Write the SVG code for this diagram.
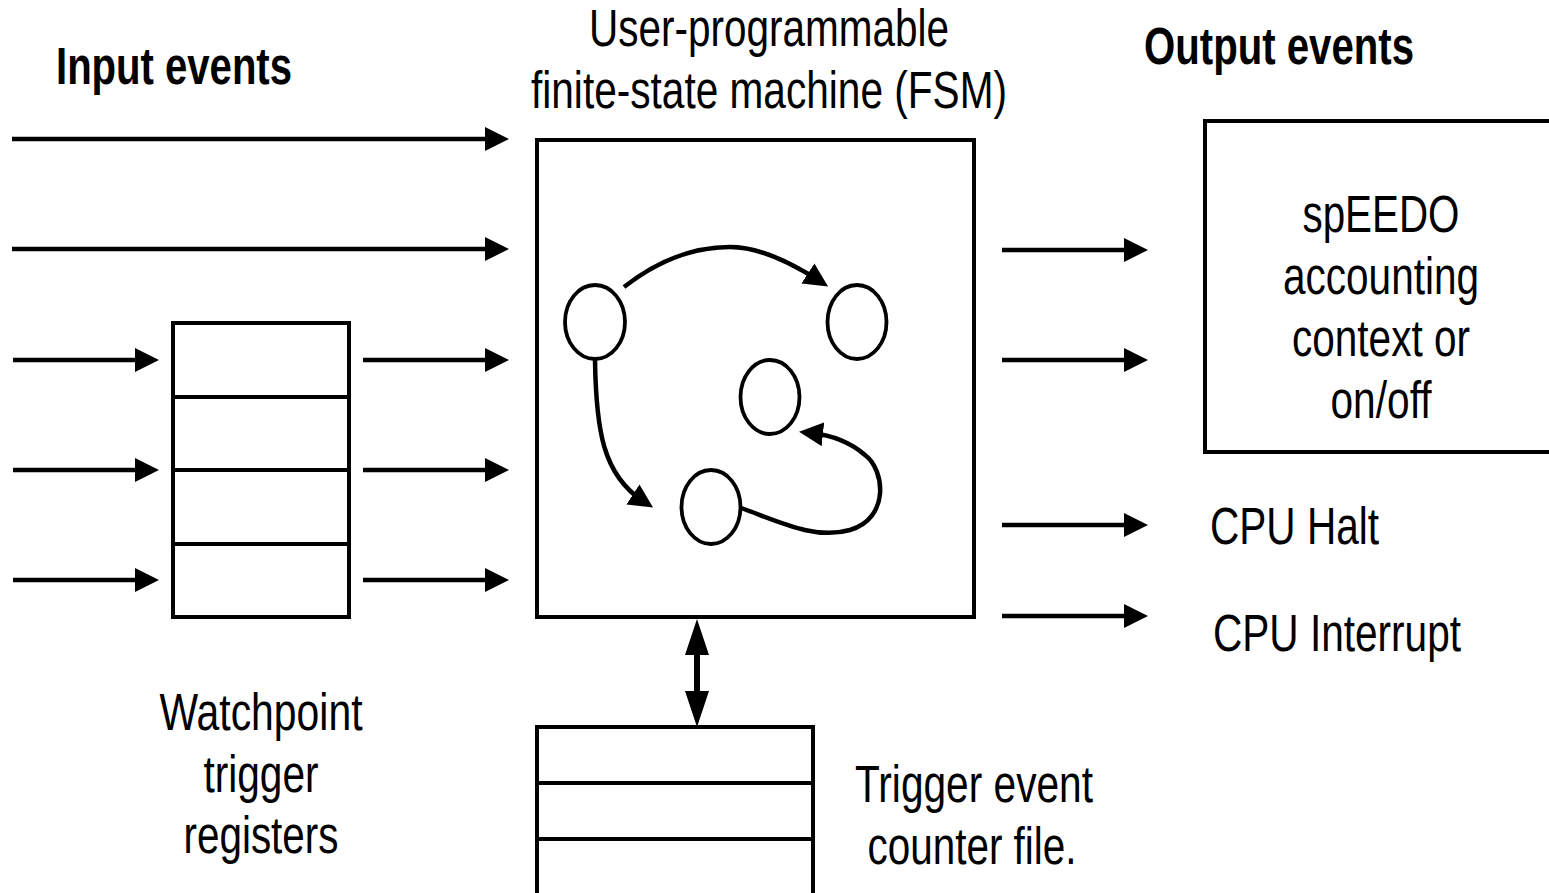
<svg xmlns="http://www.w3.org/2000/svg" width="1549" height="893" viewBox="0 0 1549 893">
  <style>
    .t { font-family: "Liberation Sans", Arial, sans-serif; font-size: 51px; fill: #000; }
    .b { font-weight: bold; }
    .box { fill: #fff; stroke: #000; stroke-width: 4; }
    .div { fill: none; stroke: #000; stroke-width: 4; }
    .st { fill: #fff; stroke: #000; stroke-width: 3.8; }
    .w { fill: none; stroke: #000; stroke-width: 4.5; }
    .dbl { fill: none; stroke: #000; stroke-width: 6; }
  </style>
  <defs>
    <marker id="ah" markerUnits="userSpaceOnUse" viewBox="0 0 24 24" markerWidth="24" markerHeight="24" refX="12" refY="12" orient="auto">
      <path d="M0,0 L24,12 L0,24 z" fill="#000"/>
    </marker>
    <marker id="ah2" markerUnits="userSpaceOnUse" viewBox="0 0 36 24" markerWidth="36" markerHeight="24" refX="18" refY="12" orient="auto-start-reverse">
      <path d="M0,0 L36,12 L0,24 z" fill="#000"/>
    </marker>
  </defs>
  <rect width="1549" height="893" fill="#fff"/>

  <!-- headings -->
  <text class="t b" x="56" y="84" textLength="236" lengthAdjust="spacingAndGlyphs">Input events</text>
  <text class="t" x="769" y="46" text-anchor="middle" textLength="360" lengthAdjust="spacingAndGlyphs">User-programmable</text>
  <text class="t" x="769" y="108" text-anchor="middle" textLength="476" lengthAdjust="spacingAndGlyphs">finite-state machine (FSM)</text>
  <text class="t b" x="1144" y="64" textLength="270" lengthAdjust="spacingAndGlyphs">Output events</text>

  <!-- watchpoint trigger registers -->
  <g id="watchpoints">
    <rect class="box" x="173" y="323" width="176" height="294"/>
    <line class="div" x1="173" y1="397" x2="349" y2="397"/>
    <line class="div" x1="173" y1="470" x2="349" y2="470"/>
    <line class="div" x1="173" y1="544" x2="349" y2="544"/>
    <text class="t" x="261" y="730" text-anchor="middle" textLength="203" lengthAdjust="spacingAndGlyphs">Watchpoint</text>
    <text class="t" x="261" y="792" text-anchor="middle" textLength="115" lengthAdjust="spacingAndGlyphs">trigger</text>
    <text class="t" x="261" y="853" text-anchor="middle" textLength="155" lengthAdjust="spacingAndGlyphs">registers</text>
  </g>

  <!-- finite-state machine -->
  <g id="fsm">
    <rect class="box" x="537" y="140" width="437" height="477"/>
    <ellipse id="state-a" class="st" cx="595" cy="322" rx="30" ry="37"/>
    <ellipse id="state-b" class="st" cx="857" cy="322" rx="29.5" ry="37"/>
    <ellipse id="state-c" class="st" cx="770" cy="397" rx="29.5" ry="37"/>
    <ellipse id="state-d" class="st" cx="711" cy="507" rx="29.5" ry="37"/>
  </g>

  <!-- output: spEEDO accounting -->
  <g id="speedo">
    <rect class="box" x="1205" y="121" width="360" height="331"/>
    <text class="t" x="1381" y="232" text-anchor="middle" textLength="157" lengthAdjust="spacingAndGlyphs">spEEDO</text>
    <text class="t" x="1381" y="294" text-anchor="middle" textLength="196" lengthAdjust="spacingAndGlyphs">accounting</text>
    <text class="t" x="1381" y="356" text-anchor="middle" textLength="178" lengthAdjust="spacingAndGlyphs">context or</text>
    <text class="t" x="1381" y="418" text-anchor="middle" textLength="101" lengthAdjust="spacingAndGlyphs">on/off</text>
  </g>

  <g id="cpu-halt">
    <text class="t" x="1210" y="544" textLength="169" lengthAdjust="spacingAndGlyphs">CPU Halt</text>
  </g>
  <g id="cpu-interrupt">
    <text class="t" x="1213" y="651" textLength="248" lengthAdjust="spacingAndGlyphs">CPU Interrupt</text>
  </g>

  <!-- trigger event counter file -->
  <g id="counters">
    <rect class="box" x="537" y="727" width="276" height="200"/>
    <line class="div" x1="537" y1="783" x2="813" y2="783"/>
    <line class="div" x1="537" y1="839" x2="813" y2="839"/>
    <text class="t" x="974" y="802" text-anchor="middle" textLength="238" lengthAdjust="spacingAndGlyphs">Trigger event</text>
    <text class="t" x="972" y="864" text-anchor="middle" textLength="209" lengthAdjust="spacingAndGlyphs">counter file.</text>
  </g>

  <!-- connectors -->
  <g id="connectors">
    <!-- inputs -->
    <line class="w" x1="12" y1="139" x2="497" y2="139" marker-end="url(#ah)"/>
    <line class="w" x1="12" y1="249" x2="497" y2="249" marker-end="url(#ah)"/>
    <line class="w" x1="13" y1="360" x2="147" y2="360" marker-end="url(#ah)"/>
    <line class="w" x1="13" y1="470" x2="147" y2="470" marker-end="url(#ah)"/>
    <line class="w" x1="13" y1="580" x2="147" y2="580" marker-end="url(#ah)"/>
    <line class="w" x1="363" y1="360" x2="497" y2="360" marker-end="url(#ah)"/>
    <line class="w" x1="363" y1="470" x2="497" y2="470" marker-end="url(#ah)"/>
    <line class="w" x1="363" y1="580" x2="497" y2="580" marker-end="url(#ah)"/>
    <!-- outputs -->
    <line class="w" x1="1002" y1="250" x2="1136" y2="250" marker-end="url(#ah)"/>
    <line class="w" x1="1002" y1="360" x2="1136" y2="360" marker-end="url(#ah)"/>
    <line class="w" x1="1002" y1="525" x2="1136" y2="525" marker-end="url(#ah)"/>
    <line class="w" x1="1002" y1="616" x2="1136" y2="616" marker-end="url(#ah)"/>
    <!-- FSM to counter file -->
    <line class="dbl" x1="697" y1="637" x2="697" y2="709" marker-start="url(#ah2)" marker-end="url(#ah2)"/>
    <!-- state transitions -->
    <path class="w" d="M624,287 C665,255 700,247 730,247 C760,247 790,262 818,280" marker-end="url(#ah)"/>
    <path class="w" d="M595,360 C596,430 603,475 643,501" marker-end="url(#ah)"/>
    <path class="w" d="M741,508 C780,522 815,540 850,530 C890,518 885,470 865,455 C850,442 830,435 811,433" marker-end="url(#ah)"/>
  </g>
</svg>
